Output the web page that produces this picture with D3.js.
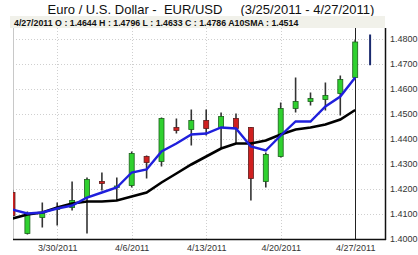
<!DOCTYPE html>
<html>
<head>
<meta charset="utf-8">
<script src="https://cdn.jsdelivr.net/npm/d3@7"></script>
<style>
body { margin: 0; background: #fff; }
svg { display: block; font-family: 'Liberation Sans', Arial, sans-serif; }
</style>
</head>
<body>
<div id="chart"></div>
<script>
// daily EUR/USD candles, 3/25/2011 - 4/27/2011
var dates = ['3/25/2011','3/28/2011','3/29/2011','3/30/2011','3/31/2011','4/1/2011','4/4/2011','4/5/2011',
	'4/6/2011','4/7/2011','4/8/2011','4/11/2011','4/12/2011','4/13/2011','4/14/2011','4/15/2011',
	'4/18/2011','4/19/2011','4/20/2011','4/21/2011','4/22/2011','4/25/2011','4/26/2011','4/27/2011'];
var opens  = [1.4184,1.4020,1.4084,1.4118,1.4124,1.4164,1.4228,1.4206,1.4212,1.4328,1.4308,1.4444,
	1.4436,1.4472,1.4444,1.4480,1.4444,1.4228,1.4328,1.4520,1.4548,1.4556,1.4580,1.4644];
var highs  = [1.4195,1.4108,1.4144,1.4144,1.4228,1.4244,1.4264,1.4244,1.4348,1.4332,1.4484,1.4480,
	1.4516,1.4516,1.4504,1.4500,1.4446,1.4344,1.4544,1.4644,1.4584,1.4624,1.4652,1.4796];
var lows   = [1.4085,1.4016,1.4044,1.4052,1.4112,1.4020,1.4192,1.4152,1.4204,1.4240,1.4288,1.4420,
	1.4372,1.4412,1.4360,1.4380,1.4152,1.4204,1.4324,1.4504,1.4532,1.4512,1.4492,1.4633];
var closes = [1.4092,1.4100,1.4100,1.4122,1.4152,1.4236,1.4220,1.4210,1.4340,1.4304,1.4480,1.4432,
	1.4472,1.4440,1.4488,1.4440,1.4240,1.4336,1.4520,1.4548,1.4560,1.4572,1.4636,1.4786];
var fastAvg = [1.4116,1.4100,1.4104,1.4120,1.4132,1.4164,1.4184,1.4204,1.4264,1.4276,1.4348,1.4380,
	1.4416,1.4420,1.4444,1.4440,1.4368,1.4352,1.4412,1.4468,1.4468,1.4528,1.4568,1.4644];
var sma10 = [1.4080,1.4096,1.4104,1.4124,1.4140,1.4148,1.4148,1.4152,1.4168,1.4184,1.4224,1.4260,
	1.4296,1.4328,1.4360,1.4380,1.4380,1.4392,1.4416,1.4436,1.4444,1.4456,1.4476,1.4514];
var marker = [1.4693, 1.4816];   // dark range bar right of the last candle
var priceTicks = [1.40,1.41,1.42,1.43,1.44,1.45,1.46,1.47,1.48];
var dateTicks = ['3/30/2011','4/6/2011','4/13/2011','4/20/2011','4/27/2011'];

(function() {

	var width = 418, height = 255;
	var plotLeft = 13, plotRight = 385, plotTop = 28, plotBottom = 239;

	var svg = d3.select('#chart').append('svg')
		.attr('width', width)
		.attr('height', height);

	var x = d3.scaleLinear().domain([0, 25]).range([12.5, 385]);
	var y = d3.scaleLinear().domain([1.40, 1.48]).range([238.5, 38.5]);

	// title
	svg.append('text')
		.attr('x', 211)
		.attr('y', 14)
		.attr('text-anchor', 'middle')
		.attr('font-size', '13px')
		.attr('fill', '#111')
		.style('white-space', 'pre')
		.text('Euro / U.S. Dollar -  EUR/USD     (3/25/2011 - 4/27/2011)');

	// info bar
	svg.append('rect')
		.attr('x', 10).attr('y', 16)
		.attr('width', plotRight - 10).attr('height', 12)
		.attr('fill', '#f1f1ea');

	var last = dates.length - 1;
	svg.append('text')
		.attr('x', 14)
		.attr('y', 25.5)
		.attr('font-size', '8.8px')
		.attr('font-weight', 'bold')
		.attr('fill', '#111')
		.text(dates[last] + ' O : ' + opens[last].toFixed(4) + ' H : ' + highs[last].toFixed(4) +
			' L : ' + lows[last].toFixed(4) + ' C : ' + closes[last].toFixed(4) +
			' A10SMA : ' + sma10[last].toFixed(4));

	svg.append('clipPath').attr('id', 'plotClip')
		.append('rect')
		.attr('x', plotLeft).attr('y', plotTop)
		.attr('width', plotRight - plotLeft).attr('height', plotBottom - plotTop);

	// grid
	var grid = svg.append('g');
	grid.selectAll('.hgrid').data(priceTicks.slice(1)).enter().append('line')
		.attr('x1', plotLeft).attr('x2', plotRight)
		.attr('y1', function(d) {return Math.round(y(d)) + 0.5;})
		.attr('y2', function(d) {return Math.round(y(d)) + 0.5;})
		.attr('stroke', '#cfcfcf')
		.attr('stroke-dasharray', '1,2');
	grid.selectAll('.vgrid').data(dateTicks.slice(0, 4)).enter().append('line')
		.attr('x1', function(d) {return Math.round(x(dates.indexOf(d))) + 0.5;})
		.attr('x2', function(d) {return Math.round(x(dates.indexOf(d))) + 0.5;})
		.attr('y1', plotTop).attr('y2', plotBottom)
		.attr('stroke', '#cfcfcf')
		.attr('stroke-dasharray', '1,2');

	// left border
	svg.append('line')
		.attr('x1', plotLeft + 0.5).attr('x2', plotLeft + 0.5)
		.attr('y1', plotTop).attr('y2', plotBottom)
		.attr('stroke', '#c8c8c8');

	var plot = svg.append('g').attr('clip-path', 'url(#plotClip)');
	var idx = d3.range(dates.length);

	// crosshair on the last day
	plot.append('line')
		.attr('x1', Math.round(x(last)) + 0.5).attr('x2', Math.round(x(last)) + 0.5)
		.attr('y1', plotTop).attr('y2', plotBottom)
		.attr('stroke', '#222')
		.attr('stroke-width', 1);

	plot.selectAll('.wick').data(idx).enter().append('line')
		.attr('x1', function(i) {return x(i);})
		.attr('x2', function(i) {return x(i);})
		.attr('y1', function(i) {return y(highs[i]);})
		.attr('y2', function(i) {return y(lows[i]);})
		.attr('stroke', '#333')
		.attr('stroke-width', 1.6);

	plot.selectAll('.body').data(idx).enter().append('rect')
		.attr('x', function(i) {return x(i) - 2.5;})
		.attr('width', 5)
		.attr('y', function(i) {return y(Math.max(opens[i], closes[i]));})
		.attr('height', function(i) {return Math.max(1.5, Math.abs(y(opens[i]) - y(closes[i])));})
		.attr('fill', function(i) {return closes[i] >= opens[i] ? '#2fd12f' : '#d02020';})
		.attr('stroke', function(i) {return closes[i] >= opens[i] ? '#1c5e1c' : '#5e1c1c';})
		.attr('stroke-width', 0.8);

	plot.append('line')
		.attr('x1', x(last + 1)).attr('x2', x(last + 1))
		.attr('y1', y(marker[1])).attr('y2', y(marker[0]))
		.attr('stroke', '#1a2a6e')
		.attr('stroke-width', 2);

	var line = function(values) {
		return d3.line().x(function(i) {return x(i);}).y(function(i) {return y(values[i]);})(idx);
	};

	plot.append('path')
		.attr('d', line(sma10))
		.attr('fill', 'none')
		.attr('stroke', '#000')
		.attr('stroke-width', 2.6);

	plot.append('path')
		.attr('d', line(fastAvg))
		.attr('fill', 'none')
		.attr('stroke', '#1f1fdc')
		.attr('stroke-width', 2.4);

	// axes
	var yAxis = svg.append('g')
		.attr('transform', 'translate(' + plotRight + ',0)')
		.call(d3.axisRight(y).tickValues(priceTicks).tickFormat(d3.format('.4f')).tickSize(0).tickPadding(5));
	yAxis.select('.domain').remove();
	yAxis.selectAll('text').attr('font-size', '9px').attr('fill', '#333').attr('font-family', null);

	var xAxis = svg.append('g')
		.attr('transform', 'translate(0,' + plotBottom + ')')
		.call(d3.axisBottom(x).tickValues(dateTicks.map(function(d) {return dates.indexOf(d);}))
			.tickFormat(function(i) {return dates[i];}).tickSize(0).tickPadding(6));
	xAxis.select('.domain').remove();
	xAxis.selectAll('text').attr('font-size', '9px').attr('fill', '#333').attr('font-family', null);

	svg.append('line')
		.attr('x1', plotRight + 0.5).attr('x2', plotRight + 0.5)
		.attr('y1', plotTop).attr('y2', plotBottom + 1)
		.attr('stroke', '#111').attr('stroke-width', 1.5);
	svg.append('line')
		.attr('x1', plotLeft).attr('x2', plotRight + 1)
		.attr('y1', plotBottom + 0.5).attr('y2', plotBottom + 0.5)
		.attr('stroke', '#111').attr('stroke-width', 1.5);

})();
</script>
</body>
</html>
